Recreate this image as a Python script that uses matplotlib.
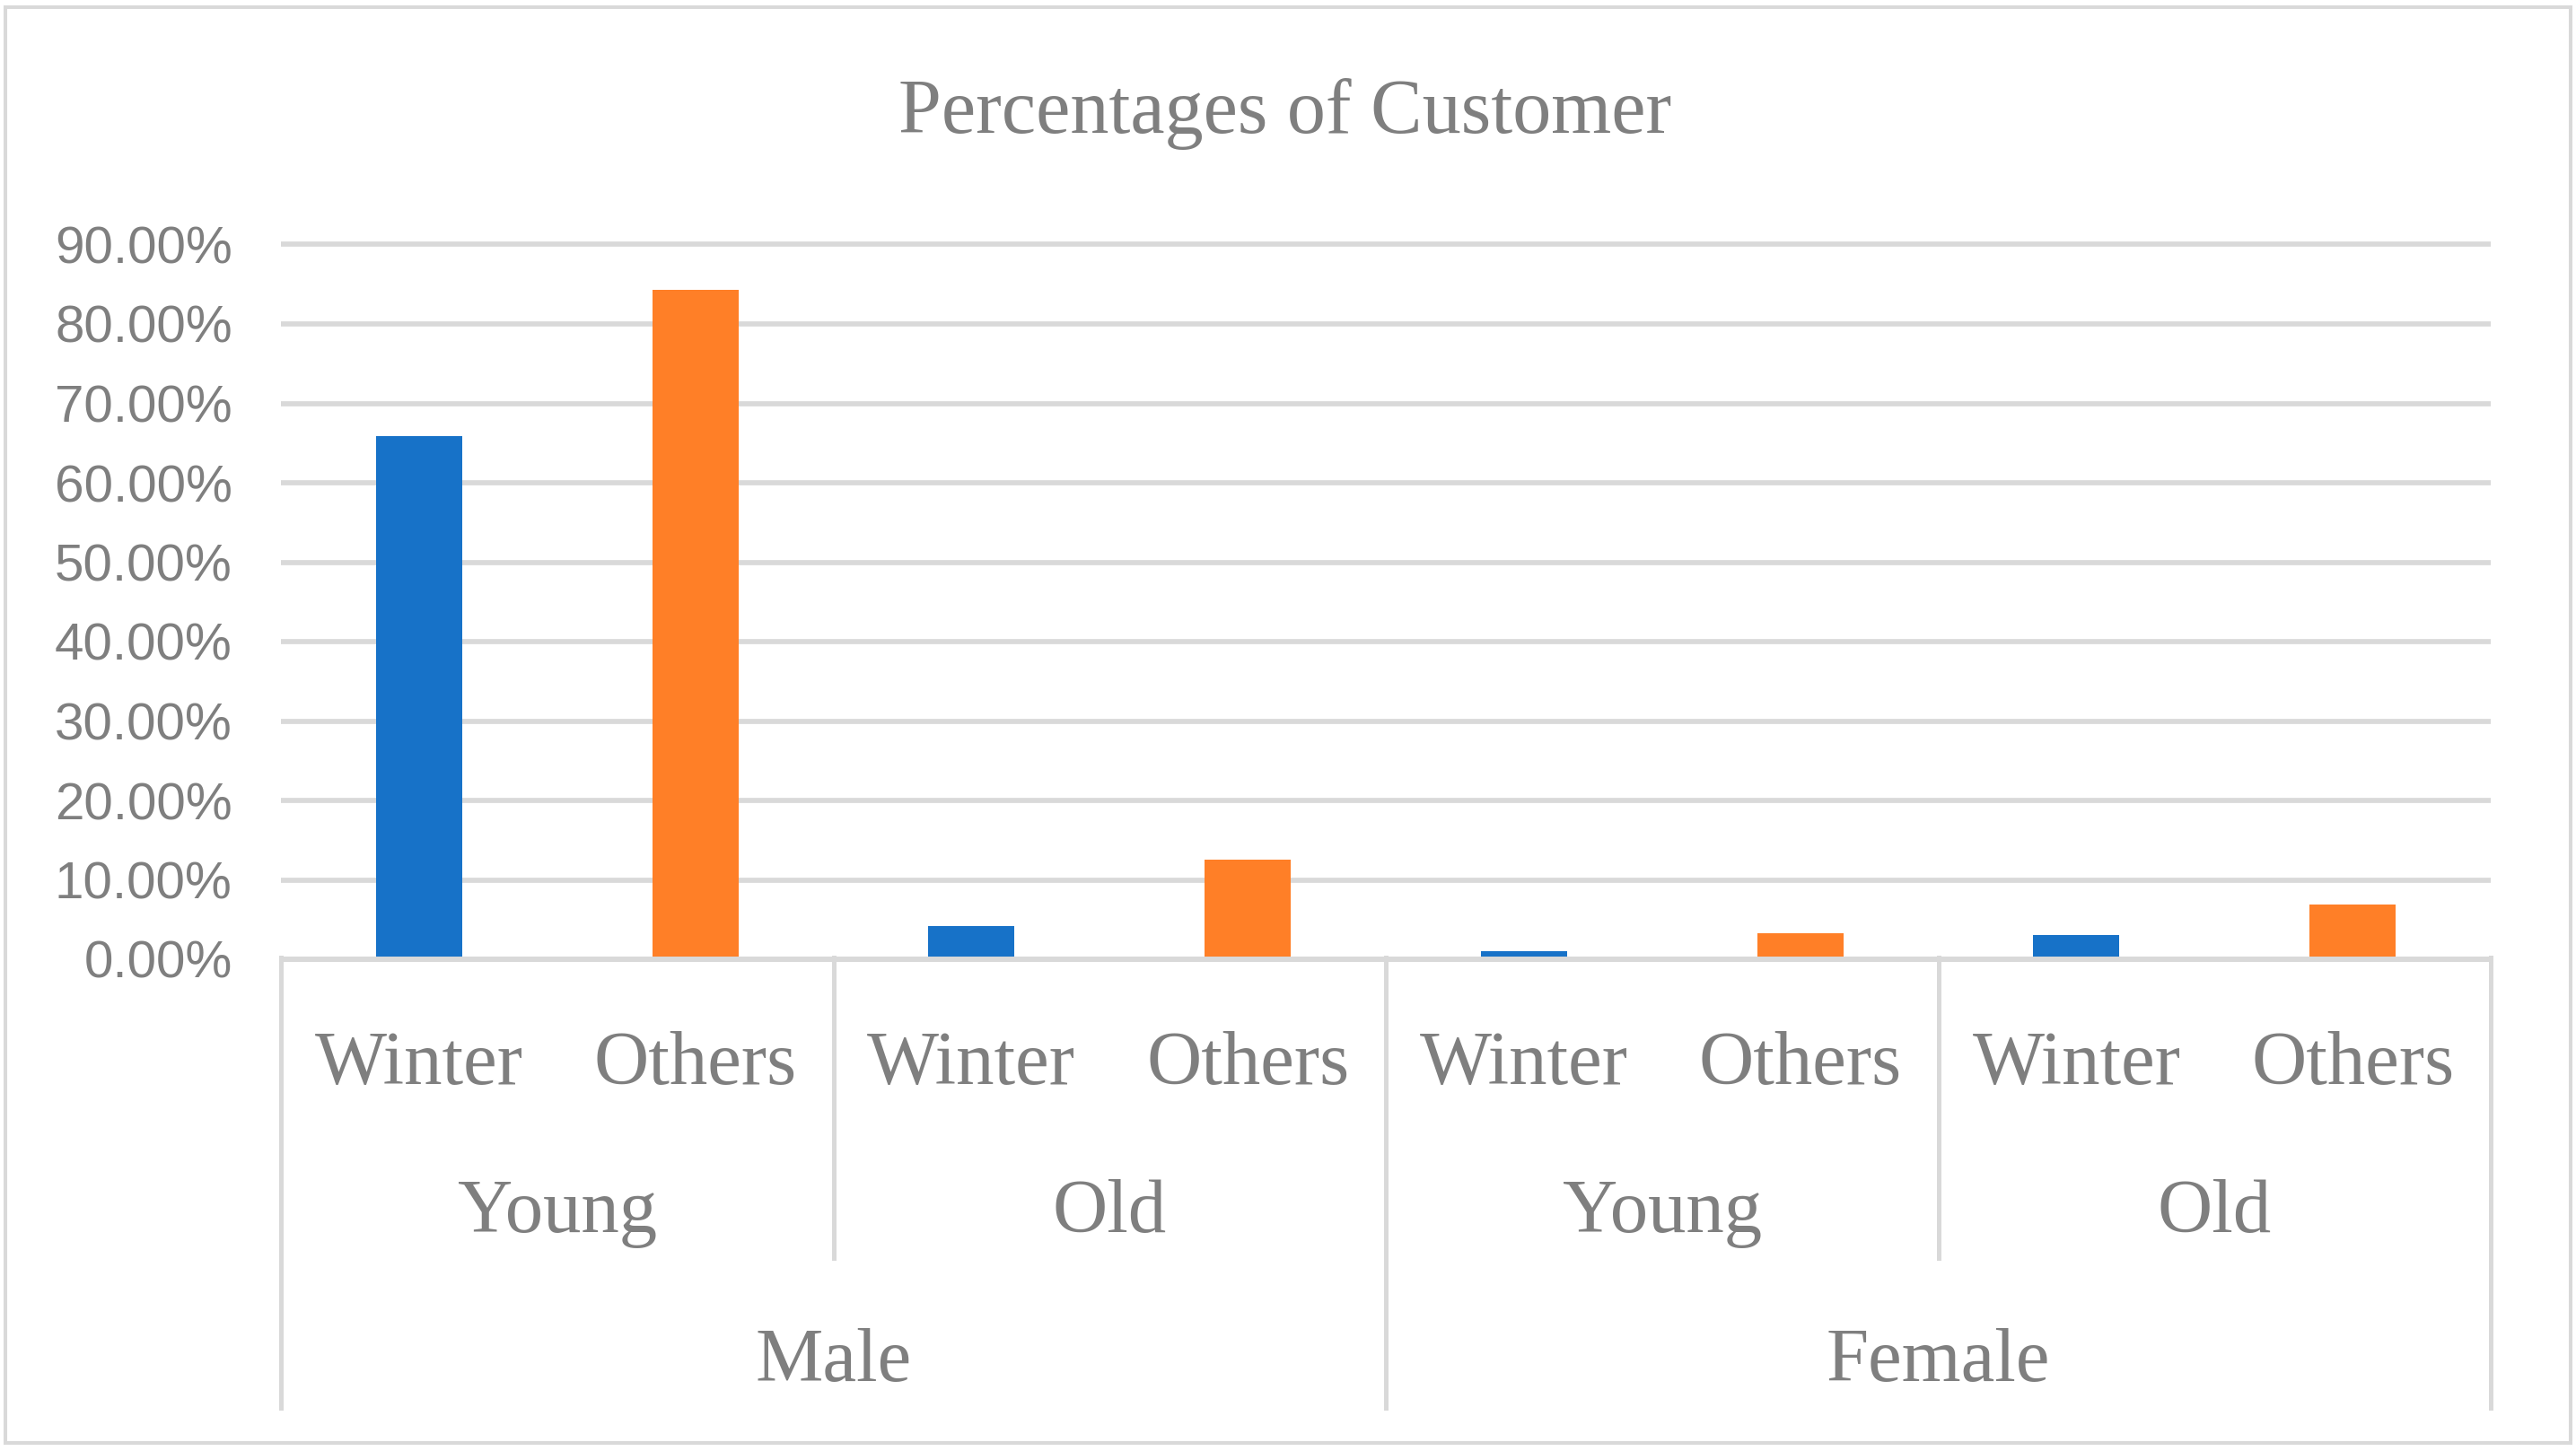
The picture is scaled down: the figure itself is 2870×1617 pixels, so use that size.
import matplotlib
matplotlib.use("Agg")
import matplotlib.pyplot as plt
from matplotlib.transforms import blended_transform_factory
from matplotlib.lines import Line2D
from matplotlib.patches import Rectangle

# ---- data ----
seasons = ["Winter", "Others", "Winter", "Others", "Winter", "Others", "Winter", "Others"]
ages = ["Young", "Old", "Young", "Old"]
genders = ["Male", "Female"]
values = [0.659, 0.843, 0.042, 0.125, 0.010, 0.033, 0.030, 0.069]
yticks = [0.0, 0.1, 0.2, 0.3, 0.4, 0.5, 0.6, 0.7, 0.8, 0.9]
ytick_labels = ["0.00%", "10.00%", "20.00%", "30.00%", "40.00%", "50.00%",
                "60.00%", "70.00%", "80.00%", "90.00%"]
title = "Percentages of Customer"

BLUE = "#1772c8"
ORANGE = "#ff7f27"
GRID = "#d9d9d9"
TEXT = "#7f7f7f"
SERIF = ["Liberation Serif", "DejaVu Serif"]
SANS = ["Liberation Sans", "DejaVu Sans"]

W, H = 2870, 1617
fig = plt.figure(figsize=(W / 100, H / 100), dpi=100)
fig.patch.set_facecolor("white")

def fy(px):
    return 1 - px / H

left, right = 313 / W, 2775 / W
bottom, top = fy(1069), fy(272.5)
ax = fig.add_axes([left, bottom, right - left, top - bottom])
ax.set_xlim(-0.5, len(values) - 0.5)
ax.set_ylim(0, 0.9)
for s in ax.spines.values():
    s.set_visible(False)

x = list(range(len(values)))
colors = [BLUE if s == "Winter" else ORANGE for s in seasons]

# gridlines
ax.hlines(yticks[1:], -0.5, len(values) - 0.5, colors=GRID, linewidth=4.1,
          zorder=0, clip_on=False)
ax.bar(x, values, width=0.312, color=colors, zorder=2)
# baseline axis
ax.hlines([0], -0.5, len(values) - 0.5, colors=GRID, linewidth=4.3,
          zorder=3, clip_on=False)

ax.set_xticks([])
ax.set_yticks(yticks)
ax.set_yticklabels(ytick_labels, fontfamily=SANS, fontsize=42, color=TEXT)
ax.tick_params(axis="y", length=0, pad=39)

# title
fig.text(1432 / W, fy(148), title, ha="center", va="baseline",
         fontfamily=SERIF, fontsize=62, color=TEXT)

# multi-level category labels
tr = blended_transform_factory(ax.transData, fig.transFigure)
for i, s in enumerate(seasons):
    ax.text(i, fy(1208), s, transform=tr, ha="center", va="baseline",
            fontfamily=SERIF, fontsize=61, color=TEXT, clip_on=False)
for j, a in enumerate(ages):
    ax.text(2 * j + 0.5, fy(1373), a, transform=tr, ha="center", va="baseline",
            fontfamily=SERIF, fontsize=61, color=TEXT, clip_on=False)
for k, g in enumerate(genders):
    ax.text(4 * k + 1.5, fy(1539), g, transform=tr, ha="center", va="baseline",
            fontfamily=SERIF, fontsize=61, color=TEXT, clip_on=False)

# separators
n = len(values)
for xb in range(0, n + 1, 2):
    xd = xb - 0.5
    long_line = (xb % 4 == 0)
    y_end = 1569 if long_line else 1402
    ax.add_line(Line2D([xd, xd], [fy(1067), fy(y_end)], transform=tr,
                       color=GRID, linewidth=3.6, clip_on=False))

# outer border
fig.patches.append(Rectangle((6 / W, fy(1608)), (2864 - 6) / W, (1608 - 8) / H,
                             transform=fig.transFigure, fill=False,
                             edgecolor=GRID, linewidth=2.9))

fig.savefig("out.png", dpi=100, facecolor="white")
